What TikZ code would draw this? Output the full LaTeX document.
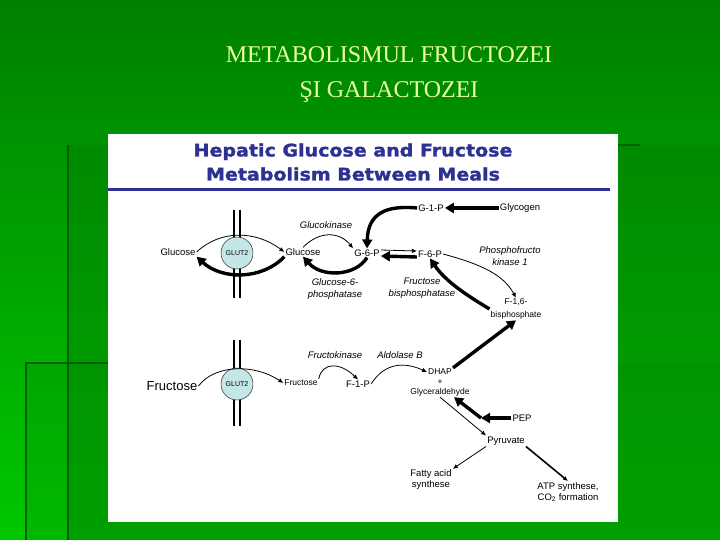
\documentclass[tikz,border=0pt]{standalone}
\usepackage{fontspec}
\setmainfont{Liberation Serif}
\newfontfamily\diagfont{Liberation Sans}
\newfontfamily\headfont[FakeStretch=1.1, FakeBold=1.5]{DejaVu Sans}
\usetikzlibrary{arrows.meta}

\definecolor{slidegreen}{RGB}{0,128,0}
\definecolor{brightgreen}{RGB}{0,200,0}
\definecolor{darkline}{RGB}{0,95,0}
\definecolor{titleyellow}{RGB}{235,255,160}
\definecolor{headblue}{RGB}{46,49,146}
\definecolor{glutblue}{RGB}{196,230,230}

\tikzset{
  mol/.style={font=\diagfont\fontsize{9.5}{11}\selectfont, inner sep=1pt},
  enz/.style={font=\diagfont\itshape\fontsize{9.5}{12}\selectfont, inner sep=1pt, align=center},
  small/.style={font=\diagfont\fontsize{8.5}{12.5}\selectfont, inner sep=1pt, align=center},
  glut/.style={circle, draw, fill=glutblue, minimum size=32pt, inner sep=0pt,
    font=\diagfont\fontsize{7}{8}\selectfont},
  thinarr/.style={-{Latex[length=5pt,width=4.5pt]}, line width=0.8pt},
  thickarr/.style={-{Triangle[length=9pt,width=10pt]}, line width=3.4pt},
  membrane/.style={line width=1.3pt},
}

\begin{document}
\begin{tikzpicture}[x=1pt, y=-1pt]
    \useasboundingbox (0,0) rectangle (720,540);

    % Slide background
    \shade[top color=slidegreen, bottom color=brightgreen] (0,0) rectangle (720,540);
    \fill[slidegreen, opacity=0.45] (68,145) rectangle (720,540);
    \fill[slidegreen, opacity=0.2] (26,363) rectangle (720,540);
    \draw[darkline, line width=1.5pt] (68,145) -- (68,540);
    \draw[darkline, line width=1.5pt] (26,540) -- (26,363) -- (108,363);
    \draw[darkline, line width=2pt] (618,145) -- (640,145);

    \node[text=titleyellow, font=\fontsize{24}{35}\selectfont, align=center] (slidetitle)
        at (389,75) {METABOLISMUL FRUCTOZEI\\ŞI GALACTOZEI};

    % White panel with heading
    \fill[white] (108,134) rectangle (618,522);
    \node[text=headblue, font=\headfont\bfseries\fontsize{17.3}{24}\selectfont, align=center] (heading)
        at (353,162) {Hepatic Glucose and Fructose\\Metabolism Between Meals};
    \draw[headblue, line width=3pt] (108,190) -- (610,190);

    % Membranes
    \draw[membrane] (234,210) -- (234,298);
    \draw[membrane] (240,210) -- (240,298);
    \draw[membrane] (234,340) -- (234,426);
    \draw[membrane] (240,340) -- (240,426);

    % Glucose part
    \node[mol] (gluL) at (178,252) {Glucose};
    \node[glut] (glut1) at (237,253) {GLUT2};
    \node[mol] (gluR) at (303,252) {Glucose};
    \node[mol] (g6p) at (367,253) {G-6-P};
    \node[mol] (g1p) at (431,208) {G-1-P};
    \node[mol] (glycogen) at (520,208) {Glycogen};
    \node[mol] (f6p) at (430,254) {F-6-P};
    \node[small] (f16bp) at (516,309) {F-1,6-\\bisphosphate};
    \node[enz] (gk) at (326,225) {Glucokinase};
    \node[enz] (g6pase) at (335,289) {Glucose-6-\\phosphatase};
    \node[enz] (fbpase) at (422,288) {Fructose\\bisphosphatase};
    \node[enz] (pfk1) at (510,256) {Phosphofructo\\kinase 1};

    \draw[thinarr] (gluL.east) .. controls (220,230) and (255,230) .. (gluR.west);
    \draw[thickarr] (gluR.south west) .. controls (262,280) and (222,280) .. (gluL.south east);
    \draw[thinarr] (gluR.north) .. controls (320,230) and (340,232) .. (g6p.north west);
    \draw[thickarr] (g6p.south) .. controls (356,276) and (322,278) .. (gluR.south);
    \draw[thickarr] (g1p.west) .. controls (385,205) and (368,214) .. (g6p.north);
    \draw[thickarr] (glycogen.west) -- (g1p.east);
    \draw[thinarr] ([yshift=3]g6p.east) -- ([yshift=3]f6p.west);
    \draw[thickarr] ([yshift=-3]f6p.west) -- ([yshift=-3]g6p.east);
    \draw[thinarr] (f6p.east) .. controls (480,264) and (503,274) .. (f16bp.north);
    \draw[thickarr] (f16bp.west) .. controls (468,296) and (446,282) .. (f6p.south);

    % Fructose part
    \node[mol, font=\diagfont\fontsize{13}{14}\selectfont] (fruL) at (172,386) {Fructose};
    \node[glut] (glut2) at (237,384) {GLUT2};
    \node[small] (fruR) at (301,383) {Fructose};
    \node[mol] (f1p) at (358,384) {F-1-P};
    \node[enz] (fk) at (335,355) {Fructokinase};
    \node[enz] (aldb) at (400,355) {Aldolase B};
    \node[small] (dhap) at (440,372) {DHAP};
    \node[small] (plus) at (440,382) {+};
    \node[small] (glyc) at (440,392) {Glyceraldehyde};
    \node[mol] (pep) at (522,418) {PEP};
    \coordinate (pepbend) at (481,418);
    \node[mol] (pyr) at (506,441) {Pyruvate};
    \node[mol, align=center] (fas) at (431,480) {Fatty acid\\synthese};
    \node[mol, align=center] (atp) at (568,492) {ATP synthese,\\CO\textsubscript{2} formation};

    \draw[thinarr] (fruL.east) .. controls (215,364) and (255,364) .. (fruR.west);
    \draw[thinarr] (fruR.north east) .. controls (322,362) and (340,362) .. (f1p.north);
    \draw[thinarr] (f1p.east) .. controls (385,362) and (405,362) .. (dhap.west);
    \draw[thickarr] (dhap.north east) -- (f16bp.south);
    \draw[thinarr] (glyc.south) -- (pyr.north west);
    \draw[thickarr] (pep.west) -- (pepbend);
    \draw[thickarr] (pepbend) -- ([xshift=14]glyc.south);
    \draw[thinarr] (pyr.south west) -- (fas.north east);
    \draw[thinarr, line width=1.6pt] (pyr.south east) -- (atp.north);
\end{tikzpicture}
\end{document}
